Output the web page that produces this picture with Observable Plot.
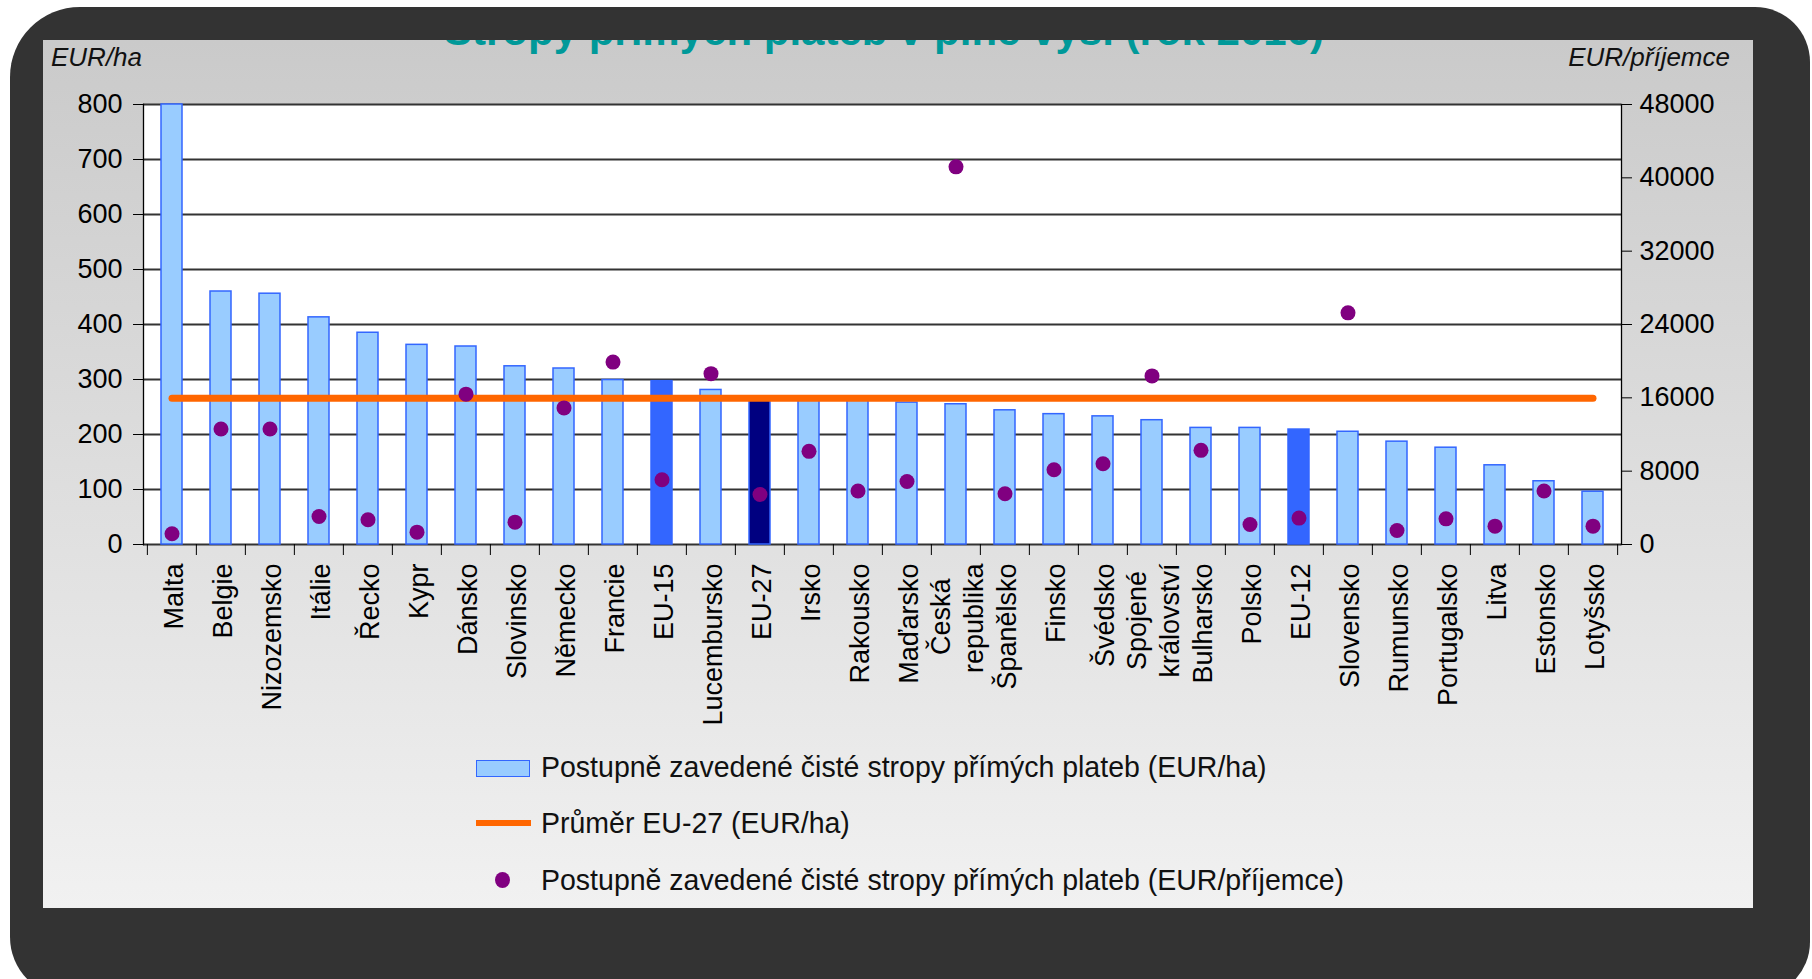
<!DOCTYPE html>
<html>
<head>
<meta charset="utf-8">
<script src="https://cdn.jsdelivr.net/npm/d3@7"></script>
<script src="https://cdn.jsdelivr.net/npm/@observablehq/plot@0.6"></script>
<style>
  html, body { margin: 0; padding: 0; background: #ffffff; }
  body { width: 1812px; height: 979px; overflow: hidden; position: relative; font-family: "Liberation Sans", Arial, sans-serif; }
  #frame { position: absolute; left: 10px; top: 7px; width: 1800px; height: 990px; background: #333333; border-radius: 70px 55px 55px 60px; }
  #panel { position: absolute; left: 43px; top: 40px; width: 1710px; height: 868px; background: linear-gradient(#cacaca, #f1f1f1); overflow: hidden; }
  #title { position: absolute; left: -10px; width: 1702px; top: -30px; height: 42px; line-height: 42px; text-align: center; font-size: 42px; font-weight: bold; color: #009999; white-space: nowrap; }
  #chart { position: absolute; left: 0; top: 0; }
  .unit { position: absolute; font-style: italic; font-size: 26px; color: #111; line-height: 26px; }
  #unitL { left: 8px; top: 4px; }
  #unitR { right: 23px; top: 4px; }
  .lg { position: absolute; left: 433px; height: 34px; width: 1000px; }
  .lg .sw { position: absolute; left: 0; }
  .lg .tx { position: absolute; left: 65px; top: 0; line-height: 34px; font-size: 30px; color: #111; white-space: nowrap; transform: scaleX(0.95); transform-origin: left center; }
</style>
</head>
<body>
<div id="frame"></div>
<div id="panel">
  <div id="title"></div>
  <div id="chart"></div>
  <div class="unit" id="unitL"></div>
  <div class="unit" id="unitR"></div>
  <div class="lg" style="top:710px"><div class="sw" style="top:10px;width:52px;height:15px;background:#99ccff;border:1.5px solid #3366ff;"></div><div class="tx" id="lg1"></div></div>
  <div class="lg" style="top:766px"><div class="sw" style="top:14px;width:55px;height:6px;background:#ff6600;"></div><div class="tx" id="lg2"></div></div>
  <div class="lg" style="top:823px"><div class="sw" style="top:9px;left:19px;width:15px;height:16px;border-radius:50%;background:#800080;"></div><div class="tx" id="lg3"></div></div>
</div>
<script>
// ---- data ----
const categories = ["Malta","Belgie","Nizozemsko","Itálie","Řecko","Kypr","Dánsko","Slovinsko","Německo","Francie","EU-15","Lucembursko","EU-27","Irsko","Rakousko","Maďarsko","Česká\nrepublika","Španělsko","Finsko","Švédsko","Spojené\nkrálovství","Bulharsko","Polsko","EU-12","Slovensko","Rumunsko","Portugalsko","Litva","Estonsko","Lotyšsko"];
const perHectare = [800,460,456,413,385,363,360,324,320,299,297,281,265,266,263,258,255,244,237,233,226,212,212,209,205,187,176,144,115,96];
const perRecipient = [1170,12600,12600,3060,2700,1350,16400,2440,14900,19900,7060,18640,5460,10160,5830,6880,41200,5530,8150,8810,18390,10270,2180,2880,25270,1530,2800,2000,5830,2000];
const eu27Average = 266;
const leftTicks = [0,100,200,300,400,500,600,700,800];
const rightTicks = [0,8000,16000,24000,32000,40000,48000];
const aggregates15_12 = ["EU-15","EU-12"];
const aggregate27 = ["EU-27"];
const titleText = "Stropy přímých plateb v plné výši (rok 2016)";
const unitLeft = "EUR/ha";
const unitRight = "EUR/příjemce";
const legendLabels = ["Postupně zavedené čisté stropy přímých plateb (EUR/ha)", "Průměr EU-27 (EUR/ha)", "Postupně zavedené čisté stropy přímých plateb (EUR/příjemce)"];

document.getElementById("title").textContent = titleText;
document.getElementById("unitL").textContent = unitLeft;
document.getElementById("unitR").textContent = unitRight;
document.getElementById("lg1").textContent = legendLabels[0];
document.getElementById("lg2").textContent = legendLabels[1];
document.getElementById("lg3").textContent = legendLabels[2];

const rows = categories.map((c, i) => ({category: c, ha: perHectare[i], rec: perRecipient[i]}));
const ratio = rightTicks[rightTicks.length - 1] / leftTicks[leftTicks.length - 1];

const W = 1702, H = 700, mL = 100, mR = 124, mT = 64, mB = 196;
const step = (W - mL - mR) / categories.length;

function fillFor(c) {
  if (aggregate27.includes(c)) return "#000080";
  if (aggregates15_12.includes(c)) return "#3366ff";
  return "#99ccff";
}
// centre the shorter first line of two-line labels, like the original
function labelFor(c) {
  if (c === "Česká\nrepublika") return "Česká\u00a0\u00a0\nrepublika";
  if (c === "Spojené\nkrálovství") return "Spojené\u00a0\nkrálovství";
  return c;
}

const chart = Plot.plot({
  width: W, height: H,
  marginLeft: mL, marginRight: mR, marginTop: mT, marginBottom: mB,
  style: {background: "transparent", fontFamily: "Liberation Sans, Arial, sans-serif", fontSize: "27px", color: "#000", overflow: "visible"},
  x: {domain: categories, padding: 0, axis: null, label: null},
  y: {domain: [0, 800], axis: null, label: null},
  color: {type: "identity"},
  marks: [
    Plot.frame({fill: "white", stroke: null}),
    Plot.gridY(leftTicks, {stroke: "#333", strokeOpacity: 1, strokeWidth: 1.8}),
    Plot.barY(rows, {x: "category", y: "ha", fill: d => fillFor(d.category), stroke: "#3366ff", strokeWidth: 1.5, insetLeft: 14, insetRight: 14}),
    Plot.lineY(categories, {x: d => d, y: () => eu27Average, stroke: "#ff6600", strokeWidth: 7}),
    Plot.dot(rows, {x: "category", y: d => d.rec / ratio, r: 7.5, fill: "#800080", stroke: null}),
    Plot.frame({anchor: "left", stroke: "#000", strokeWidth: 1.3}),
    Plot.frame({anchor: "right", stroke: "#000", strokeWidth: 1.3}),
    Plot.axisY(leftTicks, {anchor: "left", label: null, tickSize: 10, tickPadding: 11, tickFormat: d => String(d), fontSize: 27, stroke: "#000", fill: "#000"}),
    Plot.axisY(rightTicks.map(t => t / ratio), {anchor: "right", label: null, tickSize: 10, tickPadding: 8, tickFormat: t => String(Math.round(t * ratio)), fontSize: 27, stroke: "#000", fill: "#000"}),
    Plot.axisX(categories, {anchor: "bottom", label: null, tickSize: 11, tickFormat: () => "", dx: -step / 2, stroke: "#000"}),
    Plot.axisX([categories[categories.length - 1]], {anchor: "bottom", label: null, tickSize: 11, tickFormat: () => "", dx: step / 2, stroke: "#000"}),
    Plot.axisX(categories, {anchor: "bottom", label: null, tickSize: 0, tickPadding: 19, tickRotate: -90, tickFormat: labelFor, fontSize: 27, fill: "#000", lineHeight: 1.22})
  ]
});
document.getElementById("chart").appendChild(chart);
</script>
</body>
</html>
